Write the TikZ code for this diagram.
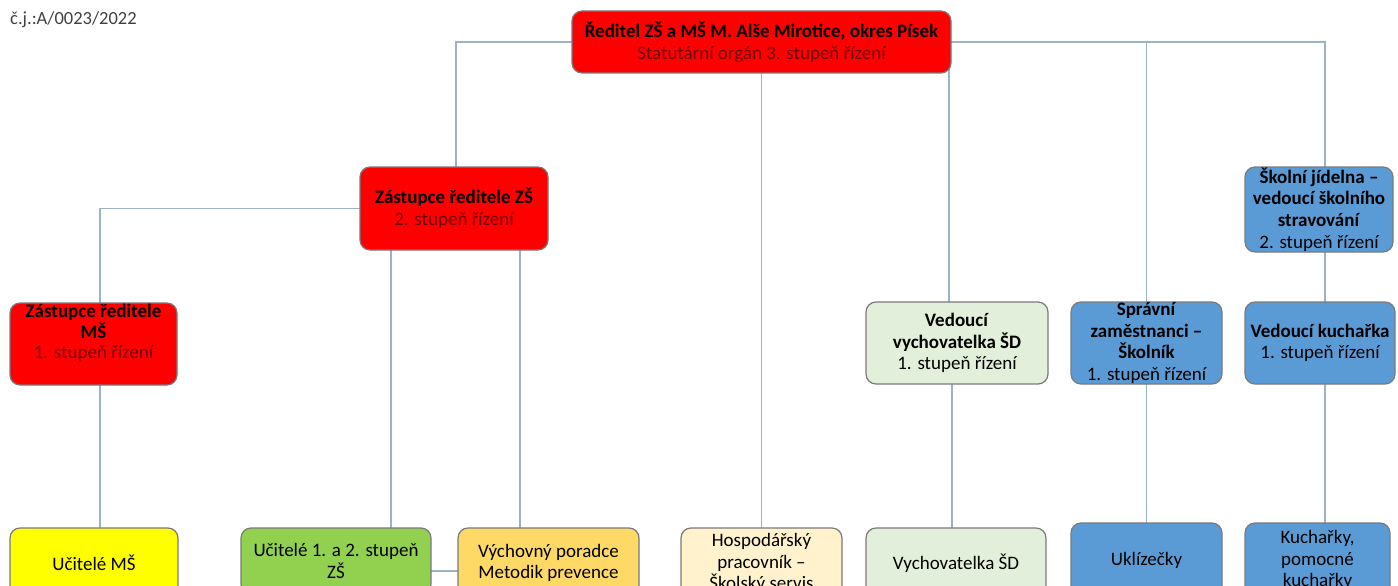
\documentclass[tikz,border=0pt]{standalone}
\usepackage{fontspec}
\setmainfont{Carlito}
\definecolor{lineblue}{HTML}{9DB2C8}
\definecolor{boxborder}{HTML}{7A7A7A}
\definecolor{darkred}{HTML}{700000}
\definecolor{cyellow}{HTML}{FFFF00}
\definecolor{cgreen}{HTML}{92D050}
\definecolor{corange}{HTML}{FFD966}
\definecolor{cpale}{HTML}{FFF2CC}
\definecolor{clgreen}{HTML}{E2EFDA}
\definecolor{cblue}{HTML}{5B9BD5}
\definecolor{ctext}{HTML}{404040}
\tikzset{
  orgbox/.style={draw=boxborder, line width=1.2pt, rounded corners=10pt, inner sep=0pt, align=center,
    font=\fontsize{19}{21.7}\selectfont, text=black},
  conn/.style={draw=lineblue, line width=1.3pt},
}
\begin{document}
\begin{tikzpicture}[x=1pt,y=-1pt]
\useasboundingbox (0,0) rectangle (1398,586);
\clip (0,0) rectangle (1398,586);
\fill[white] (0,0) rectangle (1398,586);

\node[anchor=west, text=ctext, font=\fontsize{18.5}{20}\selectfont, inner sep=0pt] (cj) at (10,20) {č.j.:A/0023/2022};

% connectors
\draw[conn] (761.5,42) -| (456,167);
\draw[conn] (761.5,42) -| (1325,167);
\draw[conn] (761.5,42) -- (761.5,528);
\draw[conn] (949,42) -- (949,302);
\draw[conn] (1146.5,42) -- (1146.5,302);
\draw[conn] (454,208.5) -| (100,303);
\draw[conn] (100,344) -- (100,528);
\draw[conn] (391,208.5) -- (391,528);
\draw[conn] (520,208.5) -- (520,528);
\draw[conn] (336,571) -- (548.5,571);
\draw[conn] (952,343) -- (952,528);
\draw[conn] (1146.5,343) -- (1146.5,523);
\draw[conn] (1325,209.5) -- (1325,523);

% level 0
\node[orgbox, fill=red, minimum width=379pt, minimum height=62pt] (top) at (761.5,42)
  {\textbf{Ředitel ZŠ a MŠ M. Alše Mirotice, okres Písek}\\\textcolor{darkred}{Statutární orgán 3. stupeň řízení}};

% level 1
\node[orgbox, fill=red, minimum width=188pt, minimum height=83pt] (zzs) at (454,208.5)
  {\textbf{Zástupce ředitele ZŠ}\\\textcolor{darkred}{2. stupeň řízení}};
\node[orgbox, fill=cblue, minimum width=148pt, minimum height=85pt] (sj) at (1319,209.5)
  {\textbf{Školní jídelna –}\\\textbf{vedoucí školního}\\\textbf{stravování}\\2. stupeň řízení};

% level 2
\node[orgbox, fill=red, minimum width=167pt, minimum height=82pt] (zms) at (93.5,344) {};
\node[align=center, inner sep=0pt, font=\fontsize{19}{20.5}\selectfont] (zmst) at (93.5,333)
  {\textbf{Zástupce ředitele}\\\textbf{MŠ}\\\textcolor{darkred}{1. stupeň řízení}};
\node[orgbox, fill=clgreen, minimum width=182pt, minimum height=82pt] (vv) at (957,343)
  {\textbf{Vedoucí}\\\textbf{vychovatelka ŠD}\\1. stupeň řízení};
\node[orgbox, fill=cblue, minimum width=151pt, minimum height=82pt] (sz) at (1146.5,343)
  {\textbf{Správní}\\\textbf{zaměstnanci –}\\\textbf{Školník}\\1. stupeň řízení};
\node[orgbox, fill=cblue, minimum width=150pt, minimum height=82pt] (vk) at (1320,343)
  {\textbf{Vedoucí kuchařka}\\1. stupeň řízení};

% level 3
\node[orgbox, fill=cyellow, minimum width=168pt, minimum height=70pt] (ums) at (94,563) {Učitelé MŠ};
\node[orgbox, fill=cgreen, minimum width=190pt, minimum height=66pt] (u12) at (336,561) {Učitelé 1. a 2. stupeň\\ZŠ};
\node[orgbox, fill=corange, minimum width=181pt, minimum height=70pt] (vp) at (548.5,563) {Výchovný poradce\\Metodik prevence};
\node[orgbox, fill=cpale, minimum width=161pt, minimum height=70pt] (hp) at (761.5,563) {Hospodářský\\pracovník –\\Školský servis};
\node[orgbox, fill=clgreen, minimum width=180pt, minimum height=70pt] (vsd) at (956,563) {Vychovatelka ŠD};
\node[orgbox, fill=cblue, minimum width=151pt, minimum height=74pt] (ukl) at (1146.5,560) {Uklízečky};
\node[orgbox, fill=cblue, minimum width=145pt, minimum height=74pt] (kuch) at (1317.5,560) {Kuchařky,\\pomocné\\kuchařky};
\end{tikzpicture}
\end{document}
